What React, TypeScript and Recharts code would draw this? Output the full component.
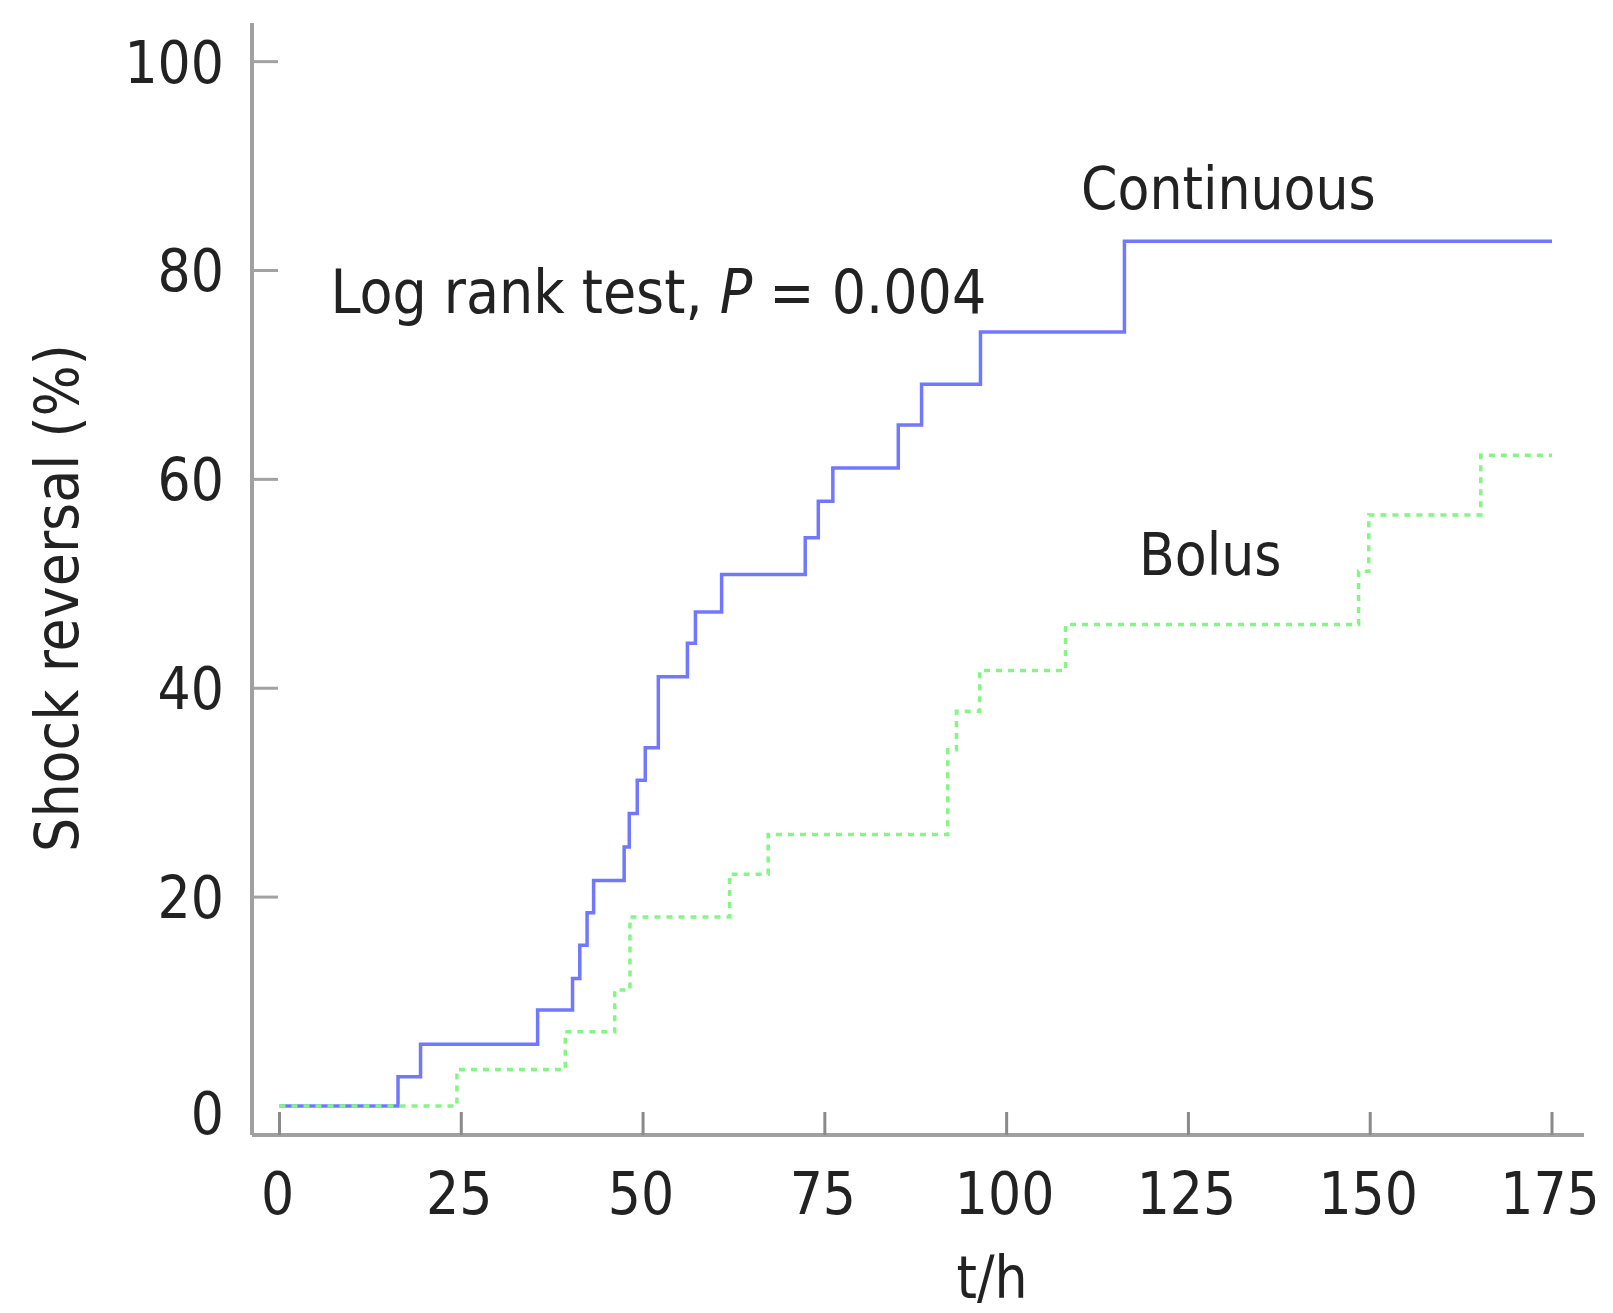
import React from 'react';
import { LineChart, Line, XAxis, YAxis, ReferenceDot } from 'recharts';

// Continuous infusion group (Kaplan-Meier, cumulative shock reversal %)
const continuousTimes = [0, 16.3, 19.4, 35.5, 40.3, 41.3, 42.3, 43.2, 47.4, 48.1, 49.2, 50.3, 52.1, 56.1, 57.2, 60.8, 72.3, 74.1, 76.1, 85.1, 88.3, 96.4, 116.2, 175];
const continuousValues = [0, 2.8, 5.9, 9.2, 12.2, 15.4, 18.5, 21.6, 24.8, 28.0, 31.2, 34.3, 41.1, 44.3, 47.3, 50.9, 54.4, 57.9, 61.1, 65.2, 69.1, 74.1, 82.8, 82.8];

// Bolus group
const bolusTimes = [0, 24.4, 39.3, 46.1, 48.2, 61.9, 67.2, 91.9, 93.1, 96.3, 108.1, 148.4, 149.8, 165.2, 175];
const bolusValues = [0, 3.5, 7.1, 11.1, 18.1, 22.2, 26.0, 34.1, 37.8, 41.7, 46.1, 51.2, 56.6, 62.3, 62.3];

const xTicks = [0, 25, 50, 75, 100, 125, 150, 175];
const yTicks = [0, 20, 40, 60, 80, 100];

const xDomain = [-3.78, 179.4];
const yDomain = [-2.78, 103.7];

const seriesLabels = [
  { text: 'Continuous', t: 130.5, v: 85.9 },
  { text: 'Bolus', t: 128.0, v: 50.8 },
];
const testLabel = { prefix: 'Log rank test, ', italic: 'P', suffix: ' = 0.004', t: 52.1, v: 75.9 };

const xLabelText = 't/h';
const yLabelText = 'Shock reversal (%)';

const continuousData = continuousTimes.map((t, i) => ({ t, v: continuousValues[i] }));
const bolusData = bolusTimes.map((t, i) => ({ t, v: bolusValues[i] }));

const FONT = '"DejaVu Sans Condensed", "DejaVu Sans", sans-serif';
const FS = 58;
const TEXT = '#222222';

const renderYTick = (props: any) => {
  const { x, y, payload } = props;
  const isZero = payload.value === 0;
  return (
    <g>
      {!isZero && <line x1={x} x2={x + 26} y1={y} y2={y} stroke="#a2a2a2" strokeWidth={3} />}
      <text x={x - 28} y={y + (isZero ? 7 : 0)} dy="0.36em" textAnchor="end" fontFamily={FONT} fontSize={FS} fill={TEXT}>
        {payload.value}
      </text>
    </g>
  );
};

const renderXTick = (props: any) => {
  const { x, y, payload } = props;
  return (
    <g>
      <line x1={x} x2={x} y1={y} y2={y - 23} stroke="#8a8a8a" strokeWidth={3} />
      <text x={x - 2} y={y + 58} dy="0.36em" textAnchor="middle" fontFamily={FONT} fontSize={FS} fill={TEXT}>
        {payload.value}
      </text>
    </g>
  );
};

const renderYLabel = (props: any) => {
  const vb = props.viewBox || { x: 0, y: 0, width: 0, height: 0 };
  const cx = vb.x + 70;
  const cy = vb.y + vb.height / 2 + 19;
  return (
    <text x={cx} y={cy} transform={`rotate(-90, ${cx}, ${cy})`} textAnchor="middle" fontFamily={FONT} fontSize={60} fill={TEXT}>
      {yLabelText}
    </text>
  );
};

const renderXLabel = (props: any) => {
  const vb = props.viewBox || { x: 0, y: 0, width: 0, height: 0 };
  return (
    <text x={vb.x + 740} y={vb.y + 163} textAnchor="middle" fontFamily={FONT} fontSize={FS} fill={TEXT}>
      {xLabelText}
    </text>
  );
};

const makeAnnot = (content: React.ReactNode, size: number) => (props: any) => {
  const vb = props.viewBox || { x: 0, y: 0, width: 0, height: 0 };
  const cx = vb.x + (vb.width || 0) / 2;
  const cy = vb.y + (vb.height || 0) / 2;
  return (
    <text x={cx} y={cy} textAnchor="middle" fontFamily={FONT} fontSize={size} fill={TEXT}>
      {content}
    </text>
  );
};

export default function App() {
  return (
    <div style={{ width: 1597, height: 1305 }}>
      <style>{'html,body{overflow:hidden;}'}</style>
      <LineChart width={1597} height={1305} margin={{ top: 15, right: 21, left: 0, bottom: 0 }}>
        <XAxis
          type="number"
          dataKey="t"
          domain={xDomain}
          ticks={xTicks}
          interval={0}
          allowDataOverflow
          height={178}
          tickSize={0}
          tickMargin={0}
          tickLine={false}
          axisLine={{ stroke: '#a0a0a0', strokeWidth: 4 }}
          tick={renderXTick}
          label={renderXLabel}
        />
        <YAxis
          type="number"
          domain={yDomain}
          ticks={yTicks}
          interval={0}
          allowDataOverflow
          width={244}
          tickSize={0}
          tickMargin={0}
          tickLine={false}
          axisLine={{ stroke: '#a0a0a0', strokeWidth: 4 }}
          tick={renderYTick}
          label={renderYLabel}
        />
        <Line
          data={continuousData}
          dataKey="v"
          type="stepAfter"
          stroke="#7078ff"
          strokeWidth={3.5}
          dot={false}
          activeDot={false}
          isAnimationActive={false}
        />
        <Line
          data={bolusData}
          dataKey="v"
          type="stepAfter"
          stroke="#82f782"
          strokeWidth={3.5}
          strokeDasharray="6 6"
          dot={false}
          activeDot={false}
          isAnimationActive={false}
        />
        {seriesLabels.map((s) => (
          <ReferenceDot key={s.text} x={s.t} y={s.v} r={0} fill="none" stroke="none" ifOverflow="visible" label={makeAnnot(s.text, FS)} />
        ))}
        <ReferenceDot
          x={testLabel.t}
          y={testLabel.v}
          r={0}
          fill="none"
          stroke="none"
          ifOverflow="visible"
          label={makeAnnot(
            <>
              {testLabel.prefix}
              <tspan fontStyle="italic">{testLabel.italic}</tspan>
              {testLabel.suffix}
            </>,
            60
          )}
        />
      </LineChart>
    </div>
  );
}
